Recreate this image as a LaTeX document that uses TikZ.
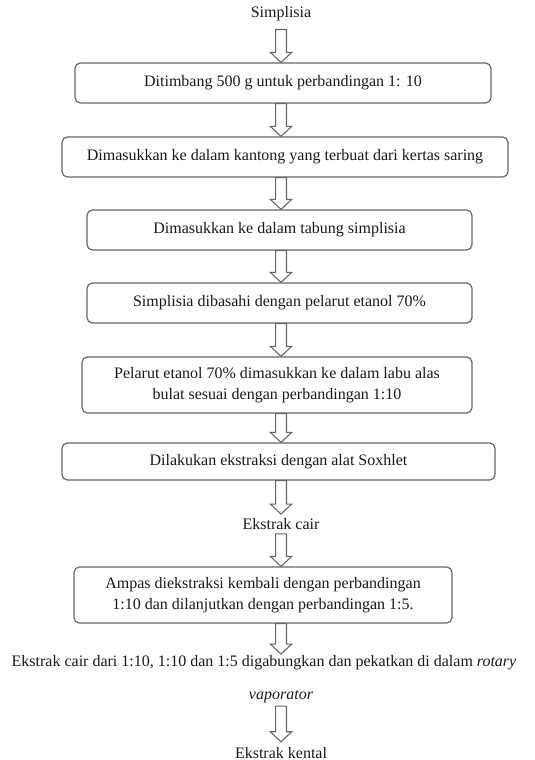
\documentclass[tikz,border=0pt]{standalone}
\usepackage{fontspec}
\setmainfont{Liberation Serif}
\usetikzlibrary{calc}

\tikzset{
  stepbox/.style={draw=black!60, line width=0.9pt, rounded corners=4pt,
    align=center, inner sep=0pt, text=black!90},
  plain/.style={align=center, inner xsep=0pt, inner ysep=3pt, text=black!90},
  hollow/.style={draw=black!60, line width=0.8pt, to path={
    let \p1=(\tikztostart), \p2=(\tikztotarget) in
    (\x1-4.1pt,\y1) -- (\x1-4.1pt,\y2+7.5pt) -- (\x1-8pt,\y2+7.5pt) -- (\x1,\y2)
    -- (\x1+8pt,\y2+7.5pt) -- (\x1+4.1pt,\y2+7.5pt) -- (\x1+4.1pt,\y1) -- cycle}},
}

\begin{document}
\begin{tikzpicture}[x=0.75pt, y=-0.75pt, font=\fontsize{12}{14.5}\selectfont]
    \useasboundingbox (0,0) rectangle (535,760);
    \coordinate (axis) at (281,0);

    \node [plain, inner ysep=6pt] (simp) at (281,14) {Simplisia};
    \node [stepbox, minimum width=312pt, minimum height=30pt] (timbang) at (283,83)
        {Ditimbang 500 g untuk perbandingan 1: 10};
    \node [stepbox, minimum width=334.5pt, minimum height=30pt] (kantong) at (285,157)
        {Dimasukkan ke dalam kantong yang terbuat dari kertas saring};
    \node [stepbox, minimum width=288.75pt, minimum height=30pt] (tabung) at (279.5,230)
        {Dimasukkan ke dalam tabung simplisia};
    \node [stepbox, minimum width=288.75pt, minimum height=30pt] (basah) at (279.5,303)
        {Simplisia dibasahi dengan pelarut etanol 70\%};
    \node [stepbox, minimum width=292.5pt, minimum height=42pt] (labu) at (277,385)
        {Pelarut etanol 70\% dimasukkan ke dalam labu alas\\[1pt]
         bulat sesuai dengan perbandingan 1:10};
    \node [stepbox, minimum width=324.75pt, minimum height=27.75pt] (soxhlet) at (278.5,461.5)
        {Dilakukan ekstraksi dengan alat Soxhlet};
    \node [plain] (cair) at (281,524) {Ekstrak cair};
    \node [stepbox, minimum width=283.5pt, minimum height=42pt] (ampas) at (263,595)
        {Ampas diekstraksi kembali dengan perbandingan\\[1pt]
         1:10 dan dilanjutkan dengan perbandingan 1:5.};
    \node [plain, inner ysep=1pt] (gabung) at (264,663)
        {Ekstrak cair dari 1:10, 1:10 dan 1:5 digabungkan dan pekatkan di dalam \textit{rotary}};
    \node [plain, inner ysep=2pt] (vap) at (281,697) {\textit{vaporator}};
    \node [plain, inner ysep=4pt] (kental) at (281,753) {Ekstrak kental};

    % hollow arrows down the axis
    \draw [hollow] (simp.south -| axis) to (timbang.north -| axis);
    \draw [hollow] (timbang.south -| axis) to (kantong.north -| axis);
    \draw [hollow] (kantong.south -| axis) to (tabung.north -| axis);
    \draw [hollow] (tabung.south -| axis) to (basah.north -| axis);
    \draw [hollow] (basah.south -| axis) to (labu.north -| axis);
    \draw [hollow] (labu.south -| axis) to (soxhlet.north -| axis);
    \draw [hollow] (soxhlet.south -| axis) to (cair.north -| axis);
    \draw [hollow] (cair.south -| axis) to (ampas.north -| axis);
    \draw [hollow] (ampas.south -| axis) to (gabung.north -| axis);
    \draw [hollow] (vap.south -| axis) to (kental.north -| axis);
\end{tikzpicture}
\end{document}
